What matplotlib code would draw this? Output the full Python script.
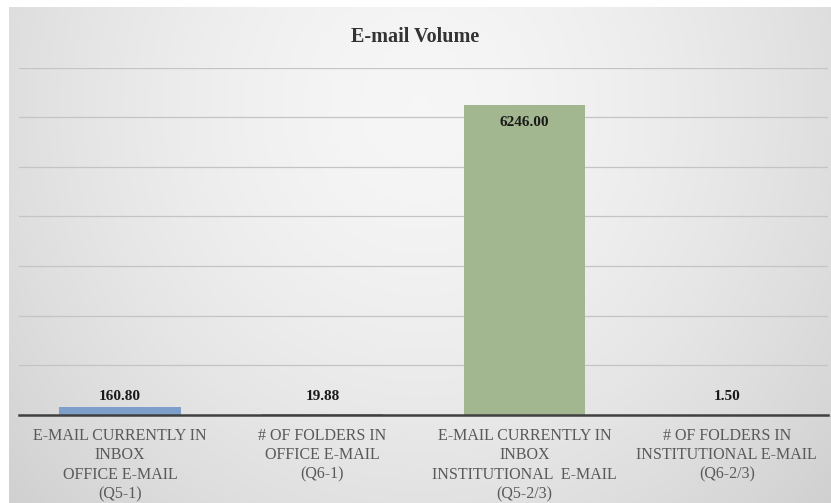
import numpy as np
import matplotlib.pyplot as plt

# Данные
categories = [
    "E-MAIL CURRENTLY IN\nINBOX\nOFFICE E-MAIL\n(Q5-1)",
    "# OF FOLDERS IN\nOFFICE E-MAIL\n(Q6-1)",
    "E-MAIL CURRENTLY IN\nINBOX\nINSTITUTIONAL  E-MAIL\n(Q5-2/3)",
    "# OF FOLDERS IN\nINSTITUTIONAL E-MAIL\n(Q6-2/3)",
]
values = [160.80, 19.88, 6246.00, 1.50]
bar_colors = ['#7f9fcb', '#9a9a9a', '#a2b68f', '#9a9a9a']

plt.rcParams['font.family'] = ['Liberation Serif', 'DejaVu Serif']

fig = plt.figure(figsize=(8.31, 5.03), dpi=100, facecolor='white')

# Фон с мягким градиентом
bg = fig.add_axes([9 / 831, 0, 1 - 9 / 831, 1 - 7 / 503])
gx, gy = np.meshgrid(np.linspace(0, 1, 400), np.linspace(0, 1, 250))
d = np.sqrt(((gx - 0.5) / 0.62) ** 2 + ((gy - 0.2) / 1.1) ** 2)
shade = np.clip(0.965 - 0.13 * d ** 1.6, 0, 1)
bg.imshow(np.dstack([shade, shade, shade]), aspect='auto', extent=[0, 1, 1, 0])
bg.set_axis_off()

# Основная область графика
ax = fig.add_axes([19 / 831, 88 / 503, 809 / 831, (415 - 67.6) / 503])
ax.patch.set_alpha(0)
x = np.arange(len(values))
bars = ax.bar(x, values, width=0.6, color=bar_colors, zorder=3)

ax.set_xlim(-0.5, len(values) - 0.5)
ax.set_ylim(0, 7000)
ax.set_yticks(np.arange(1000, 7001, 1000))
ax.yaxis.grid(True, color='#c4c4c4', linewidth=0.9, zorder=0)
ax.tick_params(axis='y', left=False, labelleft=False)
ax.tick_params(axis='x', length=0, pad=9)
ax.set_xticks(x)
ax.set_xticklabels(categories, fontsize=11.5, color='#595959', linespacing=1.3)

for s in ['top', 'right', 'left']:
    ax.spines[s].set_visible(False)
ax.spines['bottom'].set_color('#404040')
ax.spines['bottom'].set_linewidth(1.8)
ax.spines['bottom'].set_zorder(4)

# Подписи значений: маленькие столбцы подписаны над осью, большой - внутри
label_floor = 250
for i, v in enumerate(values):
    if v > 3000:
        ax.annotate(f"{v:.2f}", (x[i], v), xytext=(0, -8), textcoords='offset points',
                    ha='center', va='top', fontsize=11, fontweight='bold', color='#1a1a1a')
    else:
        ax.annotate(f"{v:.2f}", (x[i], max(v, label_floor)), xytext=(0, 0),
                    textcoords='offset points', ha='center', va='bottom',
                    fontsize=11, fontweight='bold', color='#1a1a1a')

fig.text(0.5, 1 - 37 / 503, 'E-mail Volume', ha='center', va='center',
         fontsize=14.5, fontweight='bold', color='#333333')

plt.savefig('out.png', dpi=100)
